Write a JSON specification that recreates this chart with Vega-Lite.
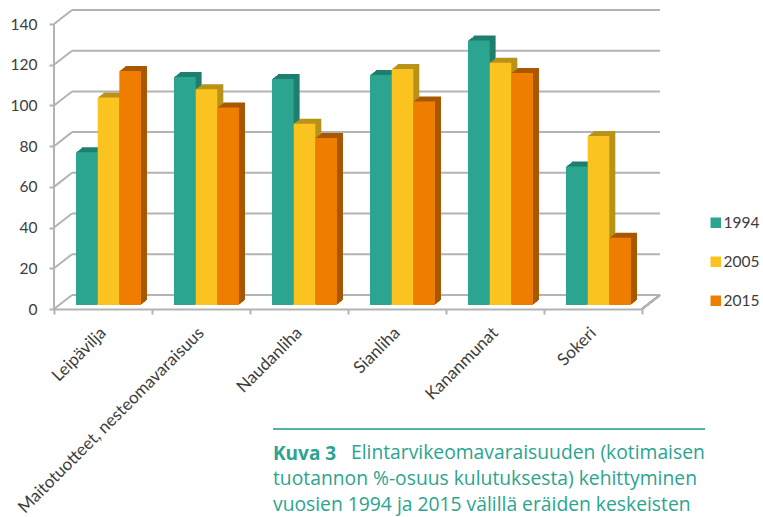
{
"$schema":"https://vega.github.io/schema/vega-lite/v6.json",
"width":588,"height":299,
"autosize":{"type":"none"},
"padding":{"left":54,"top":10,"right":121,"bottom":208},
"background":"white",
"config":{"view":{"stroke":null},"font":"Lato"},
"title":{"text":"Kuva 3","subtitle":["tuotannon %-osuus kulutuksesta) kehittyminen","vuosien 1994 ja 2015 välillä eräiden keskeisten"],
"orient":"top","anchor":"start","frame":"group","offset":0,"dx":219,"dy":506,"font":"Open Sans","fontSize":19,"fontWeight":"bold","color":"#2BA490","subtitleFont":"Open Sans","subtitleFontSize":19.3,"subtitleFontWeight":"normal","subtitleColor":"#2BA490","subtitleLineHeight":25.5,"subtitlePadding":6.5},
"datasets":{
"bars":[
{"category":"Leipävilja","year":"1994","value":75},{"category":"Leipävilja","year":"2005","value":102},{"category":"Leipävilja","year":"2015","value":115},
{"category":"Maitotuotteet, nesteomavaraisuus","year":"1994","value":112},{"category":"Maitotuotteet, nesteomavaraisuus","year":"2005","value":106},{"category":"Maitotuotteet, nesteomavaraisuus","year":"2015","value":97},
{"category":"Naudanliha","year":"1994","value":111},{"category":"Naudanliha","year":"2005","value":89},{"category":"Naudanliha","year":"2015","value":82},
{"category":"Sianliha","year":"1994","value":113},{"category":"Sianliha","year":"2005","value":116},{"category":"Sianliha","year":"2015","value":100},
{"category":"Kananmunat","year":"1994","value":130},{"category":"Kananmunat","year":"2005","value":119},{"category":"Kananmunat","year":"2015","value":114},
{"category":"Sokeri","year":"1994","value":68},{"category":"Sokeri","year":"2005","value":83},{"category":"Sokeri","year":"2015","value":33}],
"grid":[{"tick":0,"back":6.9},{"tick":20,"back":26.9},{"tick":40,"back":46.9},{"tick":60,"back":66.9},{"tick":80,"back":86.9},{"tick":100,"back":106.9},{"tick":120,"back":126.9},{"tick":140,"back":146.9}],
"caption":[{"caption":"Elintarvikeomavaraisuuden (kotimaisen"}]
},
"resolve":{"scale":{"x":"independent","xOffset":"independent"}},
"layer":[
{"data":{"name":"grid"},
 "layer":[
 {"mark":{"type":"rule","color":"#b3b3b3","strokeWidth":2,"xOffset":18,"x2Offset":18},
  "encoding":{"x":{"datum":0,"type":"quantitative","axis":null,"scale":{"domain":[0,6],"nice":false,"zero":false}},"x2":{"datum":6},"y":{"field":"back","type":"quantitative","title":null,"scale":{"domain":[0,146.9],"nice":false},"axis":{"values":[0,20,40,60,80,100,120,140],"grid":false,"domain":false,"tickColor":"#b3b3b3","tickWidth":2,"tickSize":5,"labelFontSize":15.5,"labelColor":"#3c3c3c","labelPadding":12,"labelFont":"Lato"}}}},
 {"mark":{"type":"rule","color":"#b3b3b3","strokeWidth":2},
  "encoding":{"x":{"datum":0,"type":"quantitative","axis":null},"x2":{"datum":0.184},"y":{"field":"tick","type":"quantitative"},"y2":{"field":"back"}}},
 {"mark":{"type":"rule","color":"#b3b3b3","strokeWidth":2},
  "encoding":{"x":{"datum":0,"type":"quantitative","axis":null},"y":{"datum":0,"type":"quantitative"},"y2":{"datum":140}}},
 {"mark":{"type":"rule","color":"#b3b3b3","strokeWidth":2},
  "encoding":{"x":{"datum":6,"type":"quantitative","axis":null},"x2":{"datum":6.184},"y":{"datum":0,"type":"quantitative"},"y2":{"datum":6.9}}},
 {"mark":{"type":"rule","color":"#55b5a5","strokeWidth":1.5},
  "encoding":{"x":{"datum":2.235,"type":"quantitative","axis":null},"x2":{"datum":6.643},"y":{"datum":-59,"type":"quantitative"}}},
 {"data":{"name":"caption"},"mark":{"type":"text","align":"left","baseline":"middle","font":"Open Sans","fontSize":19.3,"color":"#2BA490"},
  "encoding":{"x":{"datum":3.03,"type":"quantitative","axis":null},"y":{"datum":-70.7,"type":"quantitative"},"text":{"field":"caption","type":"nominal"}}}
 ]},
{"data":{"name":"bars"},
 "resolve":{"scale":{"xOffset":"independent"}},
 "encoding":{
  "x":{"field":"category","type":"nominal","sort":null,"title":null,"scale":{"padding":0},"axis":{"labelAngle":-45,"labelAlign":"right","labelBaseline":"middle","labelFontSize":17,"labelColor":"#3c3c3c","labelFont":"Lato","domainColor":"#b3b3b3","domainWidth":2,"tickColor":"#b3b3b3","tickWidth":2,"tickSize":5,"tickBand":"extent","labelPadding":16,"labelLimit":400}},
  "y":{"field":"value","type":"quantitative"}},
 "layer":[
 {"mark":{"type":"bar","yOffset":-9},"encoding":{"xOffset":{"field":"year","type":"nominal","scale":{"paddingInner":0,"paddingOuter":0.76,"align":0.848}},"fill":{"field":"year","type":"nominal","legend":null,"scale":{"domain":["2015","2005","1994"],"range":["#A85800","#B8921A","#1F7F6E"]}}}},
 {"mark":{"type":"bar","yOffset":-8},"encoding":{"xOffset":{"field":"year","type":"nominal","scale":{"paddingInner":0,"paddingOuter":0.76,"align":0.818}},"fill":{"field":"year","type":"nominal","legend":null}}},
 {"mark":{"type":"bar","yOffset":-7},"encoding":{"xOffset":{"field":"year","type":"nominal","scale":{"paddingInner":0,"paddingOuter":0.76,"align":0.788}},"fill":{"field":"year","type":"nominal","legend":null}}},
 {"mark":{"type":"bar","yOffset":-6.5},"encoding":{"xOffset":{"field":"year","type":"nominal","scale":{"paddingInner":0,"paddingOuter":0.76,"align":0.758}},"fill":{"field":"year","type":"nominal","legend":null}}},
 {"mark":{"type":"bar","yOffset":-5.5},"encoding":{"xOffset":{"field":"year","type":"nominal","scale":{"paddingInner":0,"paddingOuter":0.76,"align":0.727}},"fill":{"field":"year","type":"nominal","legend":null}}},
 {"mark":{"type":"bar","yOffset":-5},"encoding":{"xOffset":{"field":"year","type":"nominal","scale":{"paddingInner":0,"paddingOuter":0.76,"align":0.697}},"fill":{"field":"year","type":"nominal","legend":null}}},
 {"mark":{"type":"bar","yOffset":-4},"encoding":{"xOffset":{"field":"year","type":"nominal","scale":{"paddingInner":0,"paddingOuter":0.76,"align":0.667}},"color":{"field":"year","type":"nominal","scale":{"domain":["1994","2005","2015"],"range":["#2BA490","#FBC31F","#EE7D00"]},"legend":{"title":null,"orient":"none","legendX":654,"legendY":205,"symbolType":"square","symbolSize":110,"labelFontSize":15.5,"labelColor":"#3c3c3c","labelFont":"Lato","rowPadding":22,"labelOffset":0}}}}
 ]}
]
}
